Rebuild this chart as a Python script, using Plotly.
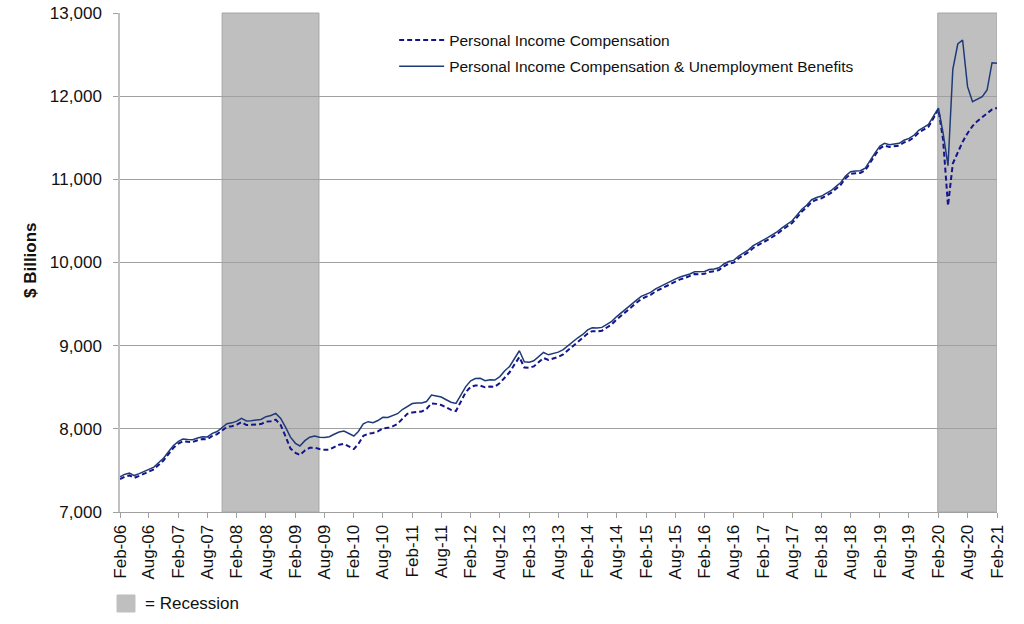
import pandas as pd
import plotly.graph_objects as go

# Personal Income Compensation & Unemployment Benefits ($ billions), monthly Feb-06 .. Feb-21
comp_plus_ui = [
    7424, 7452, 7468, 7438, 7462, 7490, 7512, 7540, 7595, 7650, 7725, 7800,
    7850, 7878, 7872, 7870, 7890, 7905, 7903, 7945, 7968, 8015, 8062, 8072,
    8092, 8126, 8094, 8098, 8104, 8112, 8146, 8160, 8186, 8125, 8020, 7900,
    7826, 7794, 7858, 7900, 7914, 7900, 7896, 7905, 7935, 7962, 7974, 7945,
    7914, 7968, 8060, 8086, 8074, 8100, 8138, 8136, 8160, 8182, 8232, 8272,
    8304, 8312, 8310, 8328, 8406, 8394, 8382, 8350, 8320, 8306, 8400, 8508,
    8578, 8604, 8607, 8578, 8590, 8586, 8628, 8699, 8750, 8848, 8939, 8807,
    8802, 8818, 8866, 8918, 8890, 8905, 8922, 8952, 9000, 9048, 9095, 9135,
    9190, 9216, 9212, 9220, 9255, 9292, 9350, 9402, 9452, 9500, 9545, 9592,
    9618, 9641, 9682, 9712, 9741, 9770, 9800, 9825, 9841, 9862, 9889, 9886,
    9892, 9915, 9921, 9937, 9982, 10012, 10025, 10078, 10115, 10152, 10202, 10240,
    10270, 10298, 10332, 10372, 10420, 10462, 10502, 10570, 10640, 10691, 10755, 10782,
    10799, 10830, 10863, 10912, 10962, 11040, 11092, 11100, 11104, 11135, 11228, 11318,
    11400, 11433, 11416, 11420, 11433, 11470, 11492, 11530, 11590, 11625, 11660, 11760,
    11855, 11560, 11164, 12323, 12627, 12675, 12114, 11933, 11962, 11993, 12074, 12402,
    12395,
]

# Personal Income Compensation ($ billions), monthly Feb-06 .. Feb-21
comp = [
    7396, 7424, 7440, 7410, 7434, 7462, 7484, 7512, 7567, 7622, 7697, 7772,
    7822, 7850, 7844, 7842, 7862, 7877, 7875, 7915, 7936, 7980, 8024, 8032,
    8050, 8082, 8046, 8048, 8052, 8057, 8086, 8092, 8110, 8045, 7910, 7762,
    7712, 7685, 7740, 7772, 7775, 7757, 7748, 7750, 7780, 7810, 7818, 7790,
    7757, 7818, 7915, 7942, 7950, 7970, 8006, 8012, 8030, 8060, 8120, 8180,
    8196, 8200, 8208, 8240, 8306, 8300, 8286, 8258, 8228, 8214, 8320, 8440,
    8505, 8522, 8520, 8499, 8508, 8507, 8550, 8620, 8680, 8775, 8862, 8738,
    8735, 8750, 8798, 8852, 8828, 8845, 8864, 8896, 8946, 8996, 9045, 9088,
    9146, 9174, 9172, 9180, 9217, 9256, 9314, 9367, 9418, 9467, 9513, 9561,
    9588, 9611, 9652, 9682, 9712, 9741, 9771, 9797, 9813, 9834, 9861, 9858,
    9864, 9887, 9894, 9910, 9955, 9985, 9998, 10051, 10088, 10125, 10175, 10213,
    10243, 10271, 10305, 10345, 10393, 10435, 10475, 10543, 10613, 10664, 10728, 10755,
    10772, 10803, 10836, 10885, 10935, 11013, 11065, 11073, 11077, 11108, 11201, 11291,
    11373, 11406, 11389, 11393, 11406, 11443, 11465, 11503, 11563, 11598, 11633, 11735,
    11845, 11480, 10683, 11190, 11330, 11450, 11555, 11640, 11700, 11750, 11800, 11840,
    11857,
]

tick_labels = [
    "Feb-06", "Aug-06", "Feb-07", "Aug-07", "Feb-08", "Aug-08", "Feb-09", "Aug-09",
    "Feb-10", "Aug-10", "Feb-11", "Aug-11", "Feb-12", "Aug-12", "Feb-13", "Aug-13",
    "Feb-14", "Aug-14", "Feb-15", "Aug-15", "Feb-16", "Aug-16", "Feb-17", "Aug-17",
    "Feb-18", "Aug-18", "Feb-19", "Aug-19", "Feb-20", "Aug-20", "Feb-21",
]

recession_start = ["2007-11-01", "2020-01-28"]
recession_end = ["2009-06-28", "2021-02-01"]

dates = pd.date_range(start="2006-02-01", periods=len(comp), freq="MS")
tick_vals = pd.date_range(start="2006-02-01", periods=len(tick_labels), freq="6MS")

FONT = "Liberation Sans, Arial, sans-serif"

fig = go.Figure()
fig.add_trace(go.Scatter(
    x=dates, y=comp, mode="lines", name="Personal Income Compensation",
    legendgroup="a",
    line=dict(color="#14148C", width=2, dash="5px,3px"),
))
fig.add_trace(go.Scatter(
    x=dates, y=comp_plus_ui, mode="lines",
    name="Personal Income Compensation & Unemployment Benefits",
    legendgroup="b",
    line=dict(color="#1F3A78", width=1.5),
))

for s, e in zip(recession_start, recession_end):
    fig.add_shape(type="rect", xref="x", yref="paper", x0=s, x1=e, y0=0, y1=1,
                  fillcolor="#BFBFBF", line=dict(color="#A6A6A6", width=1),
                  layer="below")

# recession key
fig.add_shape(type="rect", xref="paper", yref="paper",
              x0=-0.0034, x1=0.0171, y0=-0.2004, y1=-0.1663,
              fillcolor="#BFBFBF", line=dict(color="#BFBFBF", width=1))
fig.add_annotation(text="= Recession", xref="paper", yref="paper",
                   x=0.0262, y=-0.1834, xanchor="left", yanchor="middle",
                   showarrow=False, font=dict(family=FONT, size=17, color="#111111"))

fig.add_annotation(text="<b>$ Billions</b>", xref="paper", yref="paper",
                   x=-0.1026, y=0.505, xanchor="center", yanchor="middle",
                   textangle=-90, showarrow=False,
                   font=dict(family=FONT, size=17, color="#111111"))

fig.update_layout(
    width=1024, height=624,
    margin=dict(l=120, r=27, t=13, b=112, autoexpand=False),
    paper_bgcolor="white", plot_bgcolor="white",
    font=dict(family=FONT, size=17, color="#111111"),
    showlegend=True,
    legend=dict(x=0.3126, y=0.979, xanchor="left", yanchor="top",
                bgcolor="rgba(0,0,0,0)", font=dict(family=FONT, size=15.5, color="#111111"),
                itemwidth=45, tracegroupgap=3),
    xaxis=dict(
        type="date", range=["2006-02-01", "2021-02-01"], automargin=False,
        tickmode="array", tickvals=tick_vals, ticktext=tick_labels,
        tickangle=-90, ticks="outside", ticklen=5, tickcolor="#A0A0A0",
        showgrid=False, showline=True, linecolor="#A0A0A0", linewidth=1,
        tickfont=dict(family=FONT, size=17, color="#111111"),
        zeroline=False,
    ),
    yaxis=dict(
        range=[7000, 13000], dtick=1000, tickformat=",", automargin=False,
        ticks="outside", ticklen=5, tickcolor="#A0A0A0", ticklabelstandoff=8,
        showgrid=True, gridcolor="#A0A0A0", gridwidth=1,
        showline=True, linecolor="#C0C0C0", linewidth=1.5,
        tickfont=dict(family=FONT, size=17, color="#111111"),
        zeroline=False,
    ),
)

fig.write_html(
    "out.html",
    config={"displayModeBar": False},
    post_script="document.body.style.margin='0';document.body.style.overflow='hidden';",
)
